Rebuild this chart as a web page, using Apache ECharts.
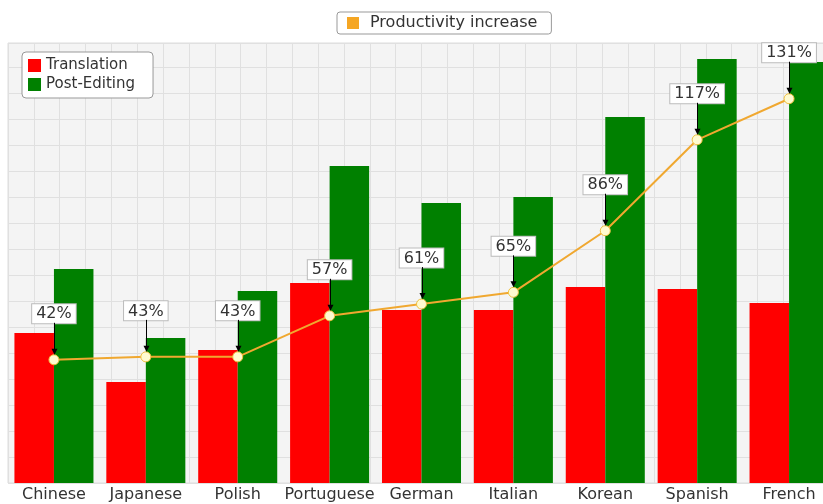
<!DOCTYPE html>
<html>
<head>
<meta charset="utf-8">
<script src="https://cdn.jsdelivr.net/npm/echarts@6/dist/echarts.min.js"></script>
<style>
    html, body { margin: 0; padding: 0; background: #fff; overflow: hidden; }
    #chart { width: 836px; height: 504px; }
</style>
</head>
<body>
<div id="chart"></div>
<script>
var languages = ['Chinese', 'Japanese', 'Polish', 'Portuguese', 'German', 'Italian', 'Korean', 'Spanish', 'French'];
var translation = [150, 101, 133, 200, 173, 173, 196, 194, 180];
var postEditing = [214, 145, 192, 317, 280, 286, 366, 424, 421];
var increase = [42, 43, 43, 57, 61, 65, 86, 117, 131];

// the plot runs past the right edge of the window, like the original
var chart = echarts.init(document.getElementById('chart'));

var font = 'DejaVu Sans, Verdana, sans-serif';

// black arrow from the label down to each point
function arrowItem(params, api) {
    var p = api.coord([api.value(0), api.value(1)]);
    var x = Math.round(p[0]) + 0.5;
    var top = p[1] - 37;
    var tip = p[1] - 5;
    return {
        type: 'group',
        children: [{
            type: 'line',
            shape: { x1: x, y1: top, x2: x, y2: tip - 4 },
            style: { stroke: '#000', lineWidth: 1 }
        }, {
            type: 'polygon',
            shape: { points: [[x - 3, tip - 6], [x + 3, tip - 6], [x, tip]] },
            style: { fill: '#000' }
        }]
    };
}

chart.setOption({
    animation: false,
    textStyle: { fontFamily: font },
    legend: [{
        data: [{
            name: 'Productivity increase',
            itemStyle: { color: '#f5a623', borderWidth: 0 }
        }],
        left: 337,
        top: 12,
        icon: 'rect',
        itemWidth: 12,
        itemHeight: 12,
        itemGap: 8,
        backgroundColor: '#fff',
        borderColor: '#999',
        borderWidth: 1,
        borderRadius: 3,
        padding: [3, 14, 3, 10],
        textStyle: { fontSize: 16, color: '#333', fontFamily: font, padding: [0, 0, 0, 6] }
    }, {
        data: ['Translation', 'Post-Editing'],
        orient: 'vertical',
        left: 22,
        top: 52,
        icon: 'rect',
        itemWidth: 13,
        itemHeight: 13,
        itemGap: 4,
        backgroundColor: '#fff',
        borderColor: '#999',
        borderWidth: 1,
        borderRadius: 4,
        padding: [6, 18, 6, 6],
        textStyle: { fontSize: 15, color: '#333', fontFamily: font }
    }],
    grid: {
        left: 8,
        right: 1,
        top: 43,
        bottom: 21,
        show: true,
        backgroundColor: '#f4f4f4',
        borderColor: '#dddddd',
        borderWidth: 1
    },
    xAxis: [{
        type: 'category',
        data: languages,
        axisLine: { show: false },
        axisTick: { show: false },
        axisLabel: { fontSize: 16, color: '#333', margin: 4, fontFamily: font, interval: 0 }
    }, {
        type: 'value',
        min: 0,
        max: 32,
        interval: 1,
        show: true,
        axisLine: { show: false },
        axisTick: { show: false },
        axisLabel: { show: false },
        splitLine: { show: true, lineStyle: { color: '#e0e0e0', width: 1 } }
    }],
    yAxis: [{
        type: 'value',
        min: 0,
        max: 440,
        interval: 26,
        axisLine: { show: false },
        axisTick: { show: false },
        axisLabel: { show: false },
        splitLine: { show: true, lineStyle: { color: '#e0e0e0', width: 1 } }
    }, {
        type: 'value',
        min: 0,
        max: 150,
        axisLine: { show: false },
        axisTick: { show: false },
        axisLabel: { show: false },
        splitLine: { show: false }
    }],
    series: [{
        name: 'Translation',
        type: 'bar',
        data: translation,
        barGap: '0%',
        barCategoryGap: '14%',
        itemStyle: { color: '#ff0000' }
    }, {
        name: 'Post-Editing',
        type: 'bar',
        data: postEditing,
        itemStyle: { color: '#008000' }
    }, {
        name: 'Productivity increase',
        type: 'line',
        yAxisIndex: 1,
        data: increase,
        symbol: 'circle',
        symbolSize: 10,
        z: 5,
        lineStyle: { color: '#f0a830', width: 2 },
        itemStyle: { color: '#fffbd0', borderColor: '#f0c040', borderWidth: 1 },
        label: {
            show: true,
            position: 'top',
            distance: 31,
            formatter: '{c}%',
            fontSize: 16,
            color: '#333',
            fontFamily: font,
            backgroundColor: '#fff',
            borderColor: '#bbb',
            borderWidth: 1,
            padding: [2, 4, 1, 4]
        }
    }, {
        name: 'arrows',
        type: 'custom',
        yAxisIndex: 1,
        z: 6,
        silent: true,
        data: increase.map(function (v, i) { return [i, v]; }),
        renderItem: arrowItem
    }]
});
</script>
</body>
</html>
